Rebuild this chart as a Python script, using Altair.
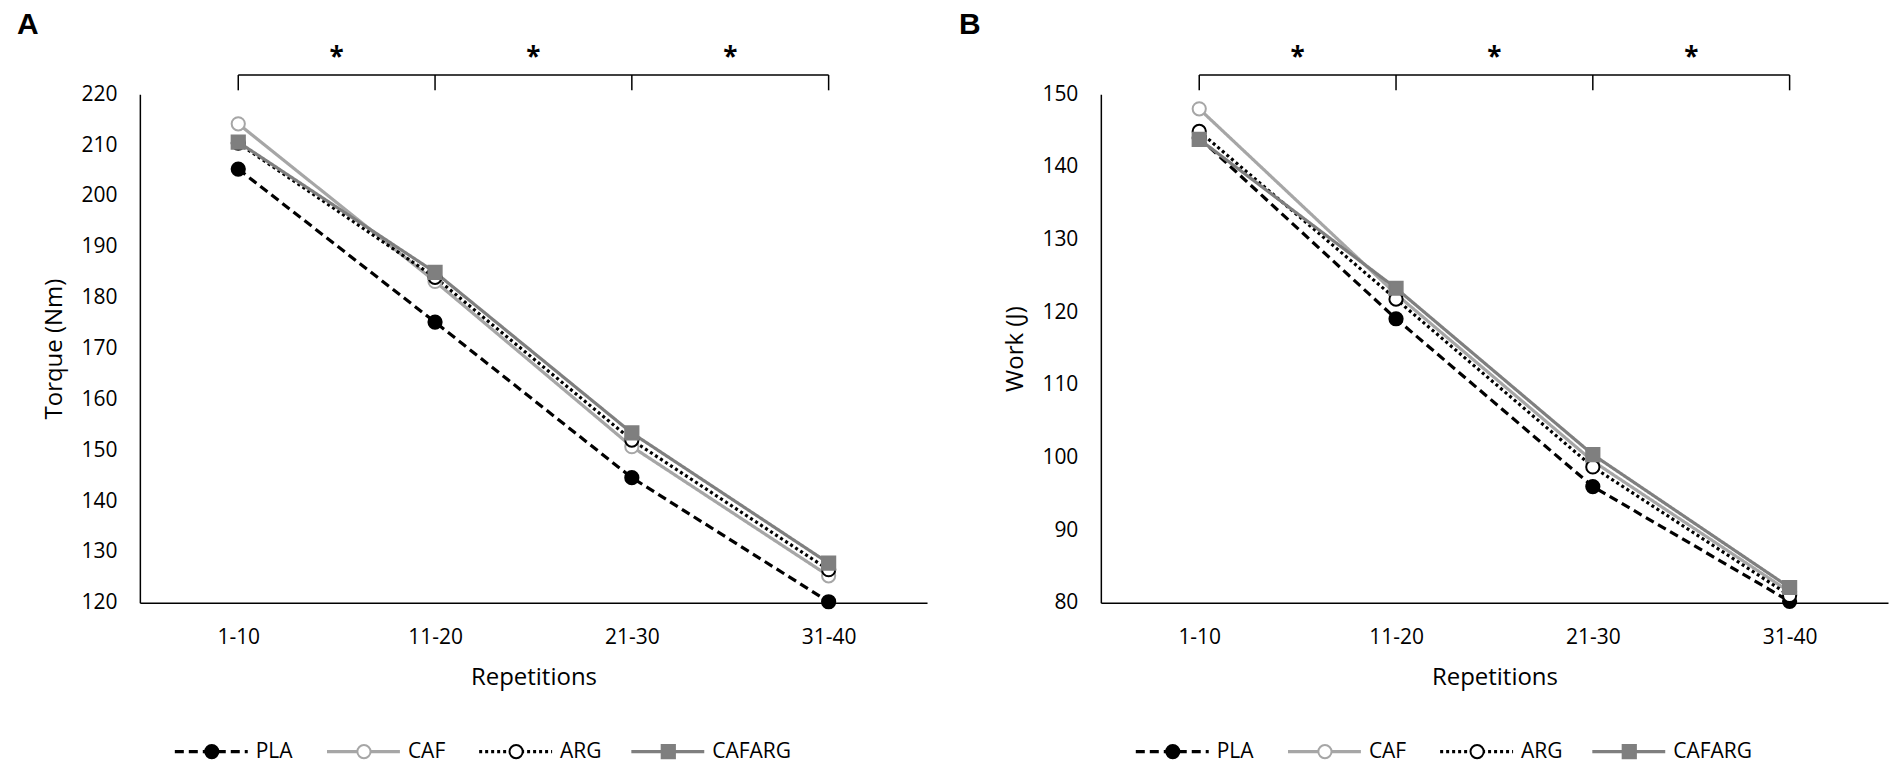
import altair as alt
import pandas as pd

# ---------------- data ----------------
cats = ["1-10", "11-20", "21-30", "31-40"]
series = ["PLA", "CAF", "ARG", "CAFARG"]

torque_pla = [205.3, 175.2, 144.6, 120.2]
torque_caf = [214.2, 183.2, 150.7, 125.3]
torque_arg = [210.4, 184.0, 152.0, 126.5]
torque_cafarg = [210.6, 185.0, 153.4, 127.8]

work_pla = [144.0, 119.1, 96.0, 80.2]
work_caf = [148.0, 122.5, 99.5, 81.5]
work_arg = [144.9, 121.8, 98.7, 81.0]
work_cafarg = [143.8, 123.3, 100.4, 82.1]

sig_labels = ["*", "*", "*"]

# ---------------- styles ----------------
line_colors = ["#000000", "#a6a6a6", "#000000", "#7f7f7f"]
dashes = [[9, 5], [1, 0], [3, 3], [1, 0]]
shapes = ["circle", "circle", "circle", "square"]
fills = ["#000000", "#ffffff", "#ffffff", "#7f7f7f"]
strokes = ["#000000", "#a6a6a6", "#000000", "#7f7f7f"]
sizes = [175, 175, 175, 235]

FONT = "Open Sans"
W, H = 788, 509
STEP = W / len(cats)


def panel(values, ymin, ymax, ytitle, letter, letter_x):
    rows = []
    for s, vals in zip(series, values):
        for c, v in zip(cats, vals):
            rows.append({"series": s, "rep": c, "value": v})
    df = pd.DataFrame(rows)

    xscale = alt.Scale(type="point", domain=cats, padding=0.5)
    x = alt.X("rep:N", scale=xscale, sort=cats, title="Repetitions",
              axis=alt.Axis(labelPadding=24, titlePadding=18, labelAngle=0))
    x_noaxis = alt.X("rep:N", scale=xscale, sort=cats, title="Repetitions")
    y = alt.Y("value:Q", scale=alt.Scale(domain=[ymin, ymax], nice=False, zero=False),
              title=ytitle,
              axis=alt.Axis(values=list(range(ymin, ymax + 1, 10)), labelPadding=23,
                            titlePadding=14))

    color = alt.Color("series:N", scale=alt.Scale(domain=series, range=line_colors), legend=None)
    dash = alt.StrokeDash("series:N", scale=alt.Scale(domain=series, range=dashes), legend=None)
    shape = alt.Shape("series:N", scale=alt.Scale(domain=series, range=shapes), legend=None)
    fill = alt.Fill("series:N", scale=alt.Scale(domain=series, range=fills), legend=None)
    stroke = alt.Stroke("series:N", scale=alt.Scale(domain=series, range=strokes), legend=None)
    size = alt.Size("series:N", scale=alt.Scale(domain=series, range=sizes), legend=None)

    base = alt.Chart(df)
    lines = base.mark_line(strokeWidth=3.2).encode(x=x, y=y, color=color, strokeDash=dash,
                                                   detail="series:N")
    points = base.mark_point(opacity=1, strokeWidth=2).encode(
        x=x_noaxis, y=y, shape=shape, fill=fill, stroke=stroke, size=size)

    # significance bracket
    bh = alt.Chart(pd.DataFrame({"rep": [cats[0]], "rep_end": [cats[-1]]})).mark_rule(
        color="black", strokeWidth=1.5).encode(
        x=x_noaxis, x2=alt.X2("rep_end:N"), y=alt.value(-19.3))
    bt = alt.Chart(pd.DataFrame({"rep": cats})).mark_rule(color="black", strokeWidth=1.5).encode(
        x=x_noaxis, y=alt.value(-19.3), y2=alt.value(-4))
    stars = alt.Chart(pd.DataFrame({"rep": cats[:-1], "lab": sig_labels})).mark_text(
        dx=STEP / 2, fontSize=26, font=FONT, fontWeight="bold", color="black",
        baseline="middle").encode(x=x_noaxis, y=alt.value(-36), text="lab:N")

    let = alt.Chart(pd.DataFrame({"t": [letter]})).mark_text(
        align="left", baseline="alphabetic", fontSize=30, font="Liberation Sans",
        fontWeight="bold", color="black").encode(
        x=alt.value(letter_x), y=alt.value(-60), text="t:N")

    main = alt.layer(lines, points, bh, bt, stars, let)

    # legend
    ldf = pd.DataFrame({"series": series})
    lx = alt.X("series:N",
               scale=alt.Scale(type="point", domain=series, range=[72, 529], padding=0),
               axis=None, sort=series)
    LY = 658
    lrule = alt.Chart(ldf).mark_rule(strokeWidth=3.2, xOffset=-37, x2Offset=36).encode(
        x=lx, x2=alt.X2("series:N"), y=alt.value(LY), color=color, strokeDash=dash)
    lpts = alt.Chart(ldf).mark_point(opacity=1, strokeWidth=2).encode(
        x=lx, y=alt.value(LY), shape=shape, fill=fill, stroke=stroke, size=size)
    ltxt = alt.Chart(ldf).mark_text(align="left", dx=44, fontSize=21, font=FONT,
                                    color="black", baseline="middle").encode(
        x=lx, y=alt.value(LY), text="series:N")
    legend = alt.layer(lrule, lpts, ltxt)

    return alt.layer(main, legend).resolve_scale(x="independent").properties(width=W, height=H)


pA = panel([torque_pla, torque_caf, torque_arg, torque_cafarg], 120, 220,
           "Torque (Nm)", "A", -123)
pB = panel([work_pla, work_caf, work_arg, work_cafarg], 80, 150,
           "Work (J)", "B", -142)

chart = alt.hconcat(pA, pB, spacing=32).properties(
    padding={"left": 9, "top": 2, "right": 5, "bottom": 0}
).configure_view(stroke=None).configure_axis(
    domainColor="black", domainWidth=1.5, ticks=False, grid=False,
    labelFont=FONT, labelFontSize=21, labelColor="black",
    titleFont=FONT, titleFontSize=24, titleFontWeight="normal", titleColor="black",
)

chart.save("out.html", embed_options={"renderer": "svg", "actions": False})
